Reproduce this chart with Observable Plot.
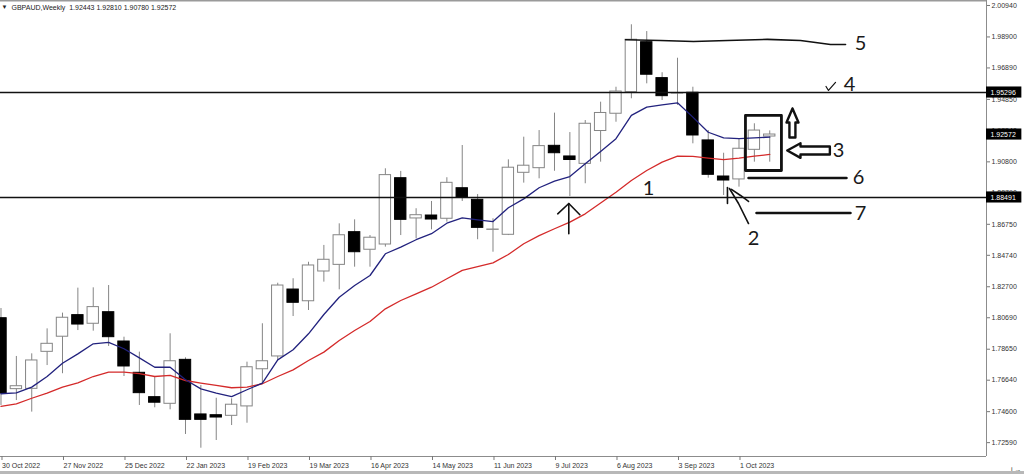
<!DOCTYPE html>
<html>
<head>
<meta charset="utf-8">
<script src="https://cdn.jsdelivr.net/npm/d3@7"></script>
<script src="https://cdn.jsdelivr.net/npm/@observablehq/plot@0.6"></script>
<style>
  html, body { margin: 0; padding: 0; background: #fff; }
  #wrap { position: relative; width: 1024px; height: 474px; overflow: hidden; }
  #wrap svg { display: block; }
  #band { position: absolute; left: 0; bottom: 0; width: 1024px; height: 3px; background: #b8b8b8; }
</style>
</head>
<body>
<div id="wrap"><div id="band"></div></div>
<script>
// ---- Data (weekly GBPAUD candles, week index 0 = 30 Oct 2022) ----
const weekLabels = ["30 Oct 2022","27 Nov 2022","25 Dec 2022","22 Jan 2023","19 Feb 2023","19 Mar 2023","16 Apr 2023","14 May 2023","11 Jun 2023","9 Jul 2023","6 Aug 2023","3 Sep 2023","1 Oct 2023"];
const yTicks = [2.00940,1.98900,1.96890,1.94850,1.92840,1.90800,1.88790,1.86750,1.84740,1.82700,1.80690,1.78650,1.76640,1.74600,1.72590];

const open  = [1.8066,1.7606,1.7608,1.7848,1.7946,1.8086,1.8030,1.8105,1.7915,1.7712,1.7554,1.7511,1.7796,1.7442,1.7437,1.7433,1.7494,1.7735,1.7818,1.8252,1.8176,1.8369,1.8412,1.8624,1.8510,1.8544,1.8974,1.8713,1.8732,1.8711,1.8909,1.8834,1.8639,1.8607,1.9009,1.9039,1.9184,1.9115,1.9067,1.9280,1.9392,1.9532,1.9856,1.9623,1.9523,1.9528,1.9219,1.8985,1.8966,1.9158,1.92443];
const high  = [1.8129,1.7818,1.7835,1.7997,1.8099,1.8261,1.8263,1.8278,1.7943,1.7846,1.7688,1.7965,1.7809,1.7630,1.7547,1.7543,1.7781,1.8030,1.8293,1.8322,1.8429,1.8538,1.8678,1.8704,1.8602,1.9035,1.9018,1.8776,1.8823,1.8977,1.9186,1.8868,1.8711,1.9093,1.9240,1.9283,1.9396,1.9270,1.9348,1.9467,1.9564,1.9969,1.9925,1.9658,1.9752,1.9564,1.9283,1.9136,1.9230,1.9327,1.92810];
const low   = [1.7500,1.7532,1.7457,1.7759,1.7706,1.7986,1.7982,1.7883,1.7688,1.7500,1.7485,1.7472,1.7312,1.7223,1.7273,1.7370,1.7385,1.7641,1.7792,1.8077,1.8116,1.8300,1.8250,1.8397,1.8397,1.8527,1.8602,1.8581,1.8639,1.8689,1.8823,1.8575,1.8494,1.8602,1.8942,1.8970,1.9019,1.8855,1.8938,1.9078,1.9337,1.9489,1.9586,1.9478,1.9446,1.9197,1.8974,1.8862,1.8916,1.9078,1.90780];
const close = [1.7578,1.7625,1.7792,1.7900,1.8069,1.8025,1.8138,1.7943,1.7753,1.7580,1.7518,1.7787,1.7407,1.7407,1.7422,1.7505,1.7748,1.7787,1.8278,1.8166,1.8408,1.8445,1.8604,1.8494,1.8588,1.8994,1.8704,1.8734,1.8706,1.8944,1.8847,1.8652,1.8641,1.9042,1.9055,1.9182,1.9136,1.9092,1.9327,1.9397,1.9536,1.9872,1.9645,1.9506,1.9525,1.9251,1.8996,1.8959,1.9165,1.9283,1.92572];

const maFast = [1.7576,1.7582,1.7619,1.7688,1.7774,1.7835,1.7900,1.7909,1.7868,1.7809,1.7748,1.7748,1.7667,1.7608,1.7580,1.7558,1.7602,1.7645,1.7796,1.7861,1.7965,1.8090,1.8202,1.8278,1.8343,1.8484,1.8527,1.8575,1.8614,1.8682,1.8717,1.8704,1.8693,1.8782,1.8840,1.8912,1.8955,1.8985,1.9067,1.9147,1.9230,1.9381,1.9435,1.9450,1.9463,1.9370,1.9272,1.9236,1.9230,1.9236,1.9240];
const maSlow = [1.7494,1.7511,1.7547,1.7580,1.7619,1.7647,1.7688,1.7716,1.7716,1.7706,1.7688,1.7695,1.7662,1.7645,1.7630,1.7615,1.7619,1.7641,1.7688,1.7731,1.7792,1.7846,1.7921,1.7986,1.8045,1.8127,1.8181,1.8224,1.8267,1.8322,1.8376,1.8401,1.8425,1.8479,1.8549,1.8602,1.8646,1.8689,1.8743,1.8813,1.8883,1.8959,1.9024,1.9078,1.9117,1.9115,1.9104,1.9095,1.9104,1.9117,1.9128];

const levels = [1.95296, 1.88491];
const priceTags = ["1.95296", "1.92572", "1.88491"];

// hand-drawn annotations, in (week index, price)
const line5    = [[40.62,1.9872],[42.89,1.9867],[45.04,1.9861],[47.25,1.9867],[49.85,1.9874],[52.0,1.9867],[52.98,1.9854],[53.95,1.9841],[54.93,1.9841]];
const line6    = [[48.62,1.8975],[54.99,1.8975]];
const line7    = [[49.14,1.8748],[55.25,1.8748]];
const box3     = [[48.42,1.9381],[50.76,1.9381],[50.76,1.9024],[48.42,1.9024],[48.42,1.9381]];
const upArrow  = [[51.48,1.9426],[51.87,1.9335],[51.67,1.9335],[51.67,1.9238],[51.28,1.9238],[51.28,1.9335],[51.09,1.9335],[51.48,1.9426]];
const leftArrow= [[51.14,1.9154],[52.0,1.9201],[52.0,1.9180],[53.91,1.9180],[53.91,1.9128],[52.0,1.9128],[52.0,1.9106],[51.14,1.9154]];
const arrow1Stem = [[36.93,1.8614],[36.93,1.8810]];
const arrow1Head = [[36.21,1.8743],[36.93,1.8810],[37.65,1.8737]];
const arrow2a  = [[47.25,1.8914],[47.25,1.8810]];
const arrow2b  = [[47.38,1.8907],[47.97,1.8810],[48.62,1.8680]];
const arrow2c  = [[47.51,1.8901],[48.10,1.8862],[48.62,1.8823]];
const tick4    = [[53.66,1.9569],[53.82,1.9543],[54.28,1.9595]];
const numLabels = ["1","2","3","4","5","6","7"];
const numPos    = [[42.11,1.8907],[48.94,1.8583],[54.47,1.9154],[55.19,1.9582],[55.9,1.9848],[55.77,1.8979],[55.9,1.8745]];
const header = "GBPAUD,Weekly  1.92443 1.92810 1.90780 1.92572";

// ---- Build ----
const xMin = -0.0325, xMax = 64.098;
const yMin = 1.71692, yMax = 2.01264;
const candles = open.map((o, i) => ({i, o, h: high[i], l: low[i], c: close[i]}));
const ups = candles.filter(d => d.c >= d.o);
const downs = candles.filter(d => d.c < d.o);
const hw = 0.37;
const tagH = 0.0036;
const pathMark = (pts, w) => Plot.line(pts, {x: d => d[0], y: d => d[1], stroke: "#111", strokeWidth: w, strokeLinejoin: "round", strokeLinecap: "round", curve: "linear"});

const chart = Plot.plot({
  width: 1024, height: 474,
  marginTop: 0, marginBottom: 18, marginLeft: 0, marginRight: 38,
  x: {type: "linear", domain: [xMin, xMax], axis: null},
  y: {domain: [yMin, yMax], axis: null},
  style: {fontFamily: "'Liberation Sans', Arial, sans-serif", fontSize: "7px", background: "white", color: "#222"},
  marks: [
    // frame lines
    Plot.ruleX([xMax], {stroke: "#8c8c8c"}),
    Plot.ruleY([yMin], {stroke: "#8c8c8c"}),
    Plot.ruleY([yMax], {stroke: "#9a9a9a", strokeWidth: 2}),
    // axes
    Plot.axisX(d3.range(0, 49, 4), {anchor: "bottom", tickSize: 4, tickPadding: 3, stroke: "#777",
      tickFormat: d => weekLabels[d / 4], textAnchor: "start", dx: 1, fontSize: 7, fill: "#333"}),
    Plot.axisY(yTicks, {anchor: "right", tickSize: 3, tickPadding: 2, stroke: "#777",
      tickFormat: d => d.toFixed(5), fontSize: 7, fill: "#333"}),
    // candles
    Plot.ruleX(candles, {x: "i", y1: "l", y2: "h", stroke: "#858585", strokeWidth: 1}),
    Plot.rect(ups, {x1: d => d.i - hw, x2: d => d.i + hw, y1: "o", y2: "c", fill: "white", stroke: "#858585", strokeWidth: 1}),
    Plot.rect(downs, {x1: d => d.i - hw, x2: d => d.i + hw, y1: "o", y2: "c", fill: "black", stroke: "black", strokeWidth: 1}),
    // moving averages
    Plot.line(maSlow.map((v, i) => [i, v]), {x: d => d[0], y: d => d[1], stroke: "#d42a2a", strokeWidth: 1.3}),
    Plot.line(maFast.map((v, i) => [i, v]), {x: d => d[0], y: d => d[1], stroke: "#22227e", strokeWidth: 1.3}),
    // horizontal levels
    Plot.ruleY(levels, {stroke: "#111", strokeWidth: 1.4}),
    // hand-drawn annotations
    pathMark(line5, 1.6),
    pathMark(line6, 2.6),
    pathMark(line7, 2.6),
    pathMark(box3, 2.8),
    pathMark(upArrow, 2.4),
    pathMark(leftArrow, 2.4),
    pathMark(arrow1Stem, 1.6),
    pathMark(arrow1Head, 1.6),
    pathMark(arrow2a, 1.6),
    pathMark(arrow2b, 1.6),
    pathMark(arrow2c, 1.6),
    pathMark(tick4, 1.2),
    Plot.text(numLabels, {x: (d, i) => numPos[i][0], y: (d, i) => numPos[i][1], text: d => d,
      fontSize: 20, fontFamily: "Lato, 'Open Sans', sans-serif", fill: "#1a1a1a", textAnchor: "middle", lineAnchor: "middle"}),
    // price tags on the right axis
    Plot.rect(priceTags, {x1: xMax, x2: xMax + 2.3, y1: d => +d - tagH, y2: d => +d + tagH, fill: "black"}),
    Plot.text(priceTags, {x: xMax, y: d => +d, text: d => d, dx: 4, textAnchor: "start", fill: "white", fontSize: 7}),
    // header
    Plot.text(["▼"], {frameAnchor: "top-left", dx: 4, dy: 7, fontSize: 6, fill: "#222", textAnchor: "middle", lineAnchor: "middle"}),
    Plot.text([header], {frameAnchor: "top-left", dx: 11, dy: 7, fontSize: 7, fill: "#222", textAnchor: "start", lineAnchor: "middle"})
  ]
});
document.getElementById("wrap").prepend(chart);
</script>
</body>
</html>
